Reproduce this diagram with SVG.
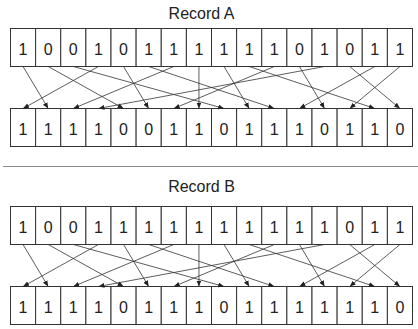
<svg xmlns="http://www.w3.org/2000/svg" width="418" height="329" viewBox="0 0 418 329">
<style>
.c{fill:#fff;stroke:#333;stroke-width:1}
.d{font-family:"Liberation Sans",Arial,sans-serif;font-size:16px;fill:#222;text-anchor:middle}
.t{font-family:"Liberation Sans",Arial,sans-serif;font-size:16px;fill:#222;text-anchor:middle}
.e{stroke:#333;stroke-width:0.8;fill:none;marker-end:url(#ah)}
.sep{stroke:#8a8a8a;stroke-width:1.2}
</style>
<defs>
<marker id="ah" markerUnits="userSpaceOnUse" markerWidth="7" markerHeight="6" refX="6" refY="2.5" orient="auto">
<path d="M0,0 L6,2.5 L0,5 z" fill="#222"/>
</marker>
</defs>
<g id="title-a"><text class="t" x="201.5" y="18.5">Record A</text></g>
<g id="title-b"><text class="t" x="201.5" y="191.5">Record B</text></g>
<line id="separator" class="sep" x1="3" y1="166.5" x2="418" y2="166.5"/>

<g id="a-top-0"><rect class="c" x="10.5" y="28.5" width="25.125" height="38"/><text class="d" x="23.06" y="55">1</text></g>
<g id="a-top-1"><rect class="c" x="35.625" y="28.5" width="25.125" height="38"/><text class="d" x="48.19" y="55">0</text></g>
<g id="a-top-2"><rect class="c" x="60.75" y="28.5" width="25.125" height="38"/><text class="d" x="73.31" y="55">0</text></g>
<g id="a-top-3"><rect class="c" x="85.875" y="28.5" width="25.125" height="38"/><text class="d" x="98.44" y="55">1</text></g>
<g id="a-top-4"><rect class="c" x="111" y="28.5" width="25.125" height="38"/><text class="d" x="123.56" y="55">0</text></g>
<g id="a-top-5"><rect class="c" x="136.125" y="28.5" width="25.125" height="38"/><text class="d" x="148.69" y="55">1</text></g>
<g id="a-top-6"><rect class="c" x="161.25" y="28.5" width="25.125" height="38"/><text class="d" x="173.81" y="55">1</text></g>
<g id="a-top-7"><rect class="c" x="186.375" y="28.5" width="25.125" height="38"/><text class="d" x="198.94" y="55">1</text></g>
<g id="a-top-8"><rect class="c" x="211.5" y="28.5" width="25.125" height="38"/><text class="d" x="224.06" y="55">1</text></g>
<g id="a-top-9"><rect class="c" x="236.625" y="28.5" width="25.125" height="38"/><text class="d" x="249.19" y="55">1</text></g>
<g id="a-top-10"><rect class="c" x="261.75" y="28.5" width="25.125" height="38"/><text class="d" x="274.31" y="55">1</text></g>
<g id="a-top-11"><rect class="c" x="286.875" y="28.5" width="25.125" height="38"/><text class="d" x="299.44" y="55">0</text></g>
<g id="a-top-12"><rect class="c" x="312" y="28.5" width="25.125" height="38"/><text class="d" x="324.56" y="55">1</text></g>
<g id="a-top-13"><rect class="c" x="337.125" y="28.5" width="25.125" height="38"/><text class="d" x="349.69" y="55">0</text></g>
<g id="a-top-14"><rect class="c" x="362.25" y="28.5" width="25.125" height="38"/><text class="d" x="374.81" y="55">1</text></g>
<g id="a-top-15"><rect class="c" x="387.375" y="28.5" width="25.125" height="38"/><text class="d" x="399.94" y="55">1</text></g>

<g id="a-bot-0"><rect class="c" x="10.5" y="108.5" width="25.125" height="38"/><text class="d" x="23.06" y="135">1</text></g>
<g id="a-bot-1"><rect class="c" x="35.625" y="108.5" width="25.125" height="38"/><text class="d" x="48.19" y="135">1</text></g>
<g id="a-bot-2"><rect class="c" x="60.75" y="108.5" width="25.125" height="38"/><text class="d" x="73.31" y="135">1</text></g>
<g id="a-bot-3"><rect class="c" x="85.875" y="108.5" width="25.125" height="38"/><text class="d" x="98.44" y="135">1</text></g>
<g id="a-bot-4"><rect class="c" x="111" y="108.5" width="25.125" height="38"/><text class="d" x="123.56" y="135">0</text></g>
<g id="a-bot-5"><rect class="c" x="136.125" y="108.5" width="25.125" height="38"/><text class="d" x="148.69" y="135">0</text></g>
<g id="a-bot-6"><rect class="c" x="161.25" y="108.5" width="25.125" height="38"/><text class="d" x="173.81" y="135">1</text></g>
<g id="a-bot-7"><rect class="c" x="186.375" y="108.5" width="25.125" height="38"/><text class="d" x="198.94" y="135">1</text></g>
<g id="a-bot-8"><rect class="c" x="211.5" y="108.5" width="25.125" height="38"/><text class="d" x="224.06" y="135">0</text></g>
<g id="a-bot-9"><rect class="c" x="236.625" y="108.5" width="25.125" height="38"/><text class="d" x="249.19" y="135">1</text></g>
<g id="a-bot-10"><rect class="c" x="261.75" y="108.5" width="25.125" height="38"/><text class="d" x="274.31" y="135">1</text></g>
<g id="a-bot-11"><rect class="c" x="286.875" y="108.5" width="25.125" height="38"/><text class="d" x="299.44" y="135">1</text></g>
<g id="a-bot-12"><rect class="c" x="312" y="108.5" width="25.125" height="38"/><text class="d" x="324.56" y="135">0</text></g>
<g id="a-bot-13"><rect class="c" x="337.125" y="108.5" width="25.125" height="38"/><text class="d" x="349.69" y="135">1</text></g>
<g id="a-bot-14"><rect class="c" x="362.25" y="108.5" width="25.125" height="38"/><text class="d" x="374.81" y="135">1</text></g>
<g id="a-bot-15"><rect class="c" x="387.375" y="108.5" width="25.125" height="38"/><text class="d" x="399.94" y="135">0</text></g>

<g id="b-top-0"><rect class="c" x="10.5" y="206.5" width="25.125" height="38"/><text class="d" x="23.06" y="233">1</text></g>
<g id="b-top-1"><rect class="c" x="35.625" y="206.5" width="25.125" height="38"/><text class="d" x="48.19" y="233">0</text></g>
<g id="b-top-2"><rect class="c" x="60.75" y="206.5" width="25.125" height="38"/><text class="d" x="73.31" y="233">0</text></g>
<g id="b-top-3"><rect class="c" x="85.875" y="206.5" width="25.125" height="38"/><text class="d" x="98.44" y="233">1</text></g>
<g id="b-top-4"><rect class="c" x="111" y="206.5" width="25.125" height="38"/><text class="d" x="123.56" y="233">1</text></g>
<g id="b-top-5"><rect class="c" x="136.125" y="206.5" width="25.125" height="38"/><text class="d" x="148.69" y="233">1</text></g>
<g id="b-top-6"><rect class="c" x="161.25" y="206.5" width="25.125" height="38"/><text class="d" x="173.81" y="233">1</text></g>
<g id="b-top-7"><rect class="c" x="186.375" y="206.5" width="25.125" height="38"/><text class="d" x="198.94" y="233">1</text></g>
<g id="b-top-8"><rect class="c" x="211.5" y="206.5" width="25.125" height="38"/><text class="d" x="224.06" y="233">1</text></g>
<g id="b-top-9"><rect class="c" x="236.625" y="206.5" width="25.125" height="38"/><text class="d" x="249.19" y="233">1</text></g>
<g id="b-top-10"><rect class="c" x="261.75" y="206.5" width="25.125" height="38"/><text class="d" x="274.31" y="233">1</text></g>
<g id="b-top-11"><rect class="c" x="286.875" y="206.5" width="25.125" height="38"/><text class="d" x="299.44" y="233">1</text></g>
<g id="b-top-12"><rect class="c" x="312" y="206.5" width="25.125" height="38"/><text class="d" x="324.56" y="233">1</text></g>
<g id="b-top-13"><rect class="c" x="337.125" y="206.5" width="25.125" height="38"/><text class="d" x="349.69" y="233">0</text></g>
<g id="b-top-14"><rect class="c" x="362.25" y="206.5" width="25.125" height="38"/><text class="d" x="374.81" y="233">1</text></g>
<g id="b-top-15"><rect class="c" x="387.375" y="206.5" width="25.125" height="38"/><text class="d" x="399.94" y="233">1</text></g>

<g id="b-bot-0"><rect class="c" x="10.5" y="286.5" width="25.125" height="38"/><text class="d" x="23.06" y="313">1</text></g>
<g id="b-bot-1"><rect class="c" x="35.625" y="286.5" width="25.125" height="38"/><text class="d" x="48.19" y="313">1</text></g>
<g id="b-bot-2"><rect class="c" x="60.75" y="286.5" width="25.125" height="38"/><text class="d" x="73.31" y="313">1</text></g>
<g id="b-bot-3"><rect class="c" x="85.875" y="286.5" width="25.125" height="38"/><text class="d" x="98.44" y="313">1</text></g>
<g id="b-bot-4"><rect class="c" x="111" y="286.5" width="25.125" height="38"/><text class="d" x="123.56" y="313">0</text></g>
<g id="b-bot-5"><rect class="c" x="136.125" y="286.5" width="25.125" height="38"/><text class="d" x="148.69" y="313">1</text></g>
<g id="b-bot-6"><rect class="c" x="161.25" y="286.5" width="25.125" height="38"/><text class="d" x="173.81" y="313">1</text></g>
<g id="b-bot-7"><rect class="c" x="186.375" y="286.5" width="25.125" height="38"/><text class="d" x="198.94" y="313">1</text></g>
<g id="b-bot-8"><rect class="c" x="211.5" y="286.5" width="25.125" height="38"/><text class="d" x="224.06" y="313">0</text></g>
<g id="b-bot-9"><rect class="c" x="236.625" y="286.5" width="25.125" height="38"/><text class="d" x="249.19" y="313">1</text></g>
<g id="b-bot-10"><rect class="c" x="261.75" y="286.5" width="25.125" height="38"/><text class="d" x="274.31" y="313">1</text></g>
<g id="b-bot-11"><rect class="c" x="286.875" y="286.5" width="25.125" height="38"/><text class="d" x="299.44" y="313">1</text></g>
<g id="b-bot-12"><rect class="c" x="312" y="286.5" width="25.125" height="38"/><text class="d" x="324.56" y="313">1</text></g>
<g id="b-bot-13"><rect class="c" x="337.125" y="286.5" width="25.125" height="38"/><text class="d" x="349.69" y="313">1</text></g>
<g id="b-bot-14"><rect class="c" x="362.25" y="286.5" width="25.125" height="38"/><text class="d" x="374.81" y="313">1</text></g>
<g id="b-bot-15"><rect class="c" x="387.375" y="286.5" width="25.125" height="38"/><text class="d" x="399.94" y="313">0</text></g>

<g id="connectors">
<line class="e" x1="23.06" y1="66.5" x2="48.19" y2="108.5"/>
<line class="e" x1="48.19" y1="66.5" x2="123.56" y2="108.5"/>
<line class="e" x1="73.31" y1="66.5" x2="224.06" y2="108.5"/>
<line class="e" x1="98.44" y1="66.5" x2="23.06" y2="108.5"/>
<line class="e" x1="123.56" y1="66.5" x2="148.69" y2="108.5"/>
<line class="e" x1="148.69" y1="66.5" x2="274.31" y2="108.5"/>
<line class="e" x1="173.81" y1="66.5" x2="73.31" y2="108.5"/>
<line class="e" x1="198.94" y1="66.5" x2="198.94" y2="108.5"/>
<line class="e" x1="224.06" y1="66.5" x2="249.19" y2="108.5"/>
<line class="e" x1="249.19" y1="66.5" x2="374.81" y2="108.5"/>
<line class="e" x1="274.31" y1="66.5" x2="173.81" y2="108.5"/>
<line class="e" x1="299.44" y1="66.5" x2="324.56" y2="108.5"/>
<line class="e" x1="324.56" y1="66.5" x2="98.44" y2="108.5"/>
<line class="e" x1="349.69" y1="66.5" x2="399.94" y2="108.5"/>
<line class="e" x1="374.81" y1="66.5" x2="299.44" y2="108.5"/>
<line class="e" x1="399.94" y1="66.5" x2="349.69" y2="108.5"/>

<line class="e" x1="23.06" y1="244.5" x2="48.19" y2="286.5"/>
<line class="e" x1="48.19" y1="244.5" x2="123.56" y2="286.5"/>
<line class="e" x1="73.31" y1="244.5" x2="224.06" y2="286.5"/>
<line class="e" x1="98.44" y1="244.5" x2="23.06" y2="286.5"/>
<line class="e" x1="123.56" y1="244.5" x2="148.69" y2="286.5"/>
<line class="e" x1="148.69" y1="244.5" x2="274.31" y2="286.5"/>
<line class="e" x1="173.81" y1="244.5" x2="73.31" y2="286.5"/>
<line class="e" x1="198.94" y1="244.5" x2="198.94" y2="286.5"/>
<line class="e" x1="224.06" y1="244.5" x2="249.19" y2="286.5"/>
<line class="e" x1="249.19" y1="244.5" x2="374.81" y2="286.5"/>
<line class="e" x1="274.31" y1="244.5" x2="173.81" y2="286.5"/>
<line class="e" x1="299.44" y1="244.5" x2="324.56" y2="286.5"/>
<line class="e" x1="324.56" y1="244.5" x2="98.44" y2="286.5"/>
<line class="e" x1="349.69" y1="244.5" x2="399.94" y2="286.5"/>
<line class="e" x1="374.81" y1="244.5" x2="299.44" y2="286.5"/>
<line class="e" x1="399.94" y1="244.5" x2="349.69" y2="286.5"/>
</g>
</svg>
